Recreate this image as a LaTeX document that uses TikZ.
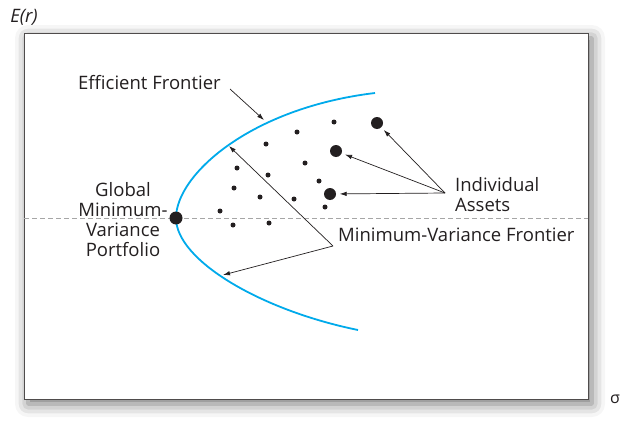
\documentclass[tikz,border=0pt]{standalone}
\usepackage{fontspec}
\setmainfont{Open Sans}
\usetikzlibrary{
    arrows.meta,
    positioning,
    shadows.blur,
    calc
}
\definecolor{ink}{RGB}{35,31,32}
\definecolor{frontier}{RGB}{0,170,235}

\begin{document}
\begin{tikzpicture}[x=1pt, y=-1pt, >={Latex[length=7pt, width=4.5pt]},
    lbl/.style={font=\fontsize{18.5}{20}\selectfont, text=ink, inner sep=0pt},
    smalldot/.style={circle, fill=ink, inner sep=0pt, minimum size=5pt},
    bigdot/.style={circle, fill=ink, inner sep=0pt, minimum size=12pt},
    pointer/.style={->, draw=ink, line width=0.7pt}]

\useasboundingbox (0,0) rectangle (630,423);

% Plot frame with its soft shadow
\fill[white, blur shadow={shadow xshift=4pt, shadow yshift=-5pt,
    shadow blur radius=13pt, shadow opacity=55}] (24,33) rectangle (588,399);
\draw[ink!80, line width=1pt] (24,33) rectangle (588,399);

% Axis labels
\node[lbl, anchor=base] (er) at (24,23) {\itshape E(r)};
\node[lbl, anchor=base] (sig) at (615,403) {\fontsize{16}{18}\selectfont σ};

% Level of the global minimum-variance portfolio
\coordinate (gl) at (24,218);
\coordinate (gr) at (588,218);
\draw[gray!70, line width=0.8pt, dash pattern=on 5pt off 3pt] (gl) -- (gr);

% Minimum-variance frontier
\draw[frontier, line width=1.8pt] (375,93)
    .. controls (250,108) and (176,175) .. (176,218)
    .. controls (176,260) and (260,310) .. (358,330);

% Individual assets
\foreach \x/\y [count=\i] in {334/122, 297/132, 266/144, 305/163, 237/168,
    268/175, 319/181, 234/188, 260/197, 294/199, 325/207, 220/211,
    233/225, 269/223}
    \node[smalldot] (s\i) at (\x,\y) {};
\node[bigdot] (a1) at (377,123) {};
\node[bigdot] (a2) at (336,151) {};
\node[bigdot] (a3) at (330,194) {};
\node[bigdot, minimum size=13pt] (gmv) at (176,218) {};

% Labels
\node[lbl, anchor=base west] (ef) at (78,89) {Efficient Frontier};
\node[lbl, align=center] (gmvp) at (123,220) {Global\\Minimum-\\Variance\\Portfolio};
\node[lbl, align=left, anchor=west] (ia) at (455,195) {Individual\\Assets};
\node[lbl, anchor=base west] (mvf) at (338,241) {Minimum-Variance Frontier};

% Pointers
\coordinate (eftail) at (230,89);
\coordinate (efhead) at (264,120);
\coordinate (iatail) at (445,193);
\coordinate (mvtail) at (333,246);
\coordinate (mvup) at (229,146);
\coordinate (mvdown) at (223,275);
\draw[pointer] (eftail) -- (efhead);
\foreach \n in {a1, a2, a3}
    \draw[pointer, shorten >=3.5pt] (iatail) -- (\n);
\draw[pointer] (mvtail) -- (mvup);
\draw[pointer] (mvtail) -- (mvdown);

\end{tikzpicture}
\end{document}
